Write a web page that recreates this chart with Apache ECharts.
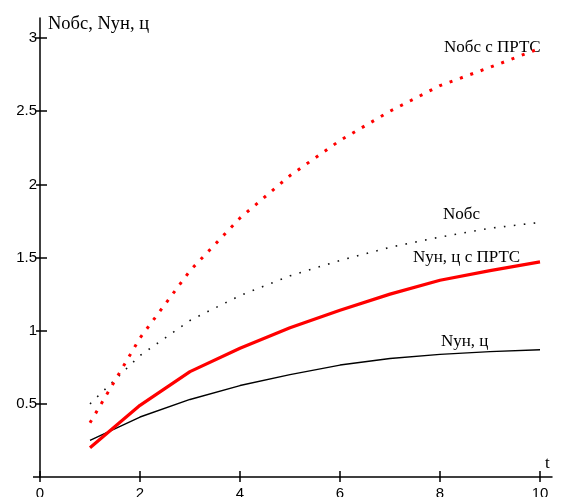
<!DOCTYPE html>
<html>
<head>
<meta charset="utf-8">
<script src="https://cdn.jsdelivr.net/npm/echarts@6/dist/echarts.min.js"></script>
<style>
  html, body { margin: 0; padding: 0; background: #fff; }
  #chart { width: 565px; height: 497px; }
</style>
</head>
<body>
<div id="chart"></div>
<script>
// Time points, t
const tValues = [1, 2, 3, 4, 5, 6, 7, 8, 9, 10];

// Nобс с ПРТС
const nObsPrts = [0.37, 0.95, 1.41, 1.77, 2.06, 2.30, 2.50, 2.675, 2.80, 2.93];
// Nобс
const nObs = [0.50, 0.83, 1.07, 1.24, 1.375, 1.48, 1.57, 1.64, 1.70, 1.74];
// Nун, ц с ПРТС
const nUnPrts = [0.20, 0.49, 0.72, 0.88, 1.02, 1.14, 1.25, 1.345, 1.41, 1.47];
// Nун, ц
const nUn = [0.25, 0.41, 0.53, 0.625, 0.70, 0.765, 0.81, 0.838, 0.857, 0.87];

// Tick labels
const xTicks = [0, 2, 4, 6, 8, 10];
const yTicks = [0.5, 1, 1.5, 2, 2.5, 3];

const pairs = (vals) => tValues.map((t, i) => [t, vals[i]]);

const serif = '"Liberation Serif", "DejaVu Serif", serif';
const sans = '"Liberation Sans", Arial, sans-serif';

const chart = echarts.init(document.getElementById('chart'), null, { renderer: 'canvas' });

const axisRange = { x: [0, 10.24], y: [0, 3.137] };

function textEl(text, x, y, size) {
  return {
    type: 'text',
    left: x,
    top: y,
    style: { text: text, font: (size || 17) + 'px ' + serif, fill: '#000' }
  };
}

const tickStyle = { color: '#000', width: 1.5 };

// helper for tick-only axes (no line, no labels)
function tickAxis(range, values, length) {
  return {
    type: 'value', min: range[0], max: range[1],
    axisLine: { show: false },
    axisTick: { show: true, inside: false, length: length, customValues: values, lineStyle: tickStyle },
    axisLabel: { show: false },
    splitLine: { show: false }
  };
}

chart.setOption({
  animation: false,
  backgroundColor: '#fff',
  grid: { left: 40, right: 13, top: 18, bottom: 20, containLabel: false, outerBoundsMode: 'none' },
  xAxis: [
    {
      type: 'value', min: axisRange.x[0], max: axisRange.x[1],
      axisLine: { show: true, lineStyle: { color: '#000', width: 1.5 } },
      axisTick: { show: true, inside: true, length: 6, customValues: xTicks, lineStyle: tickStyle },
      axisLabel: { show: true, customValues: xTicks, margin: 9, color: '#000', fontSize: 15, fontFamily: sans },
      splitLine: { show: false }
    },
    Object.assign(tickAxis(axisRange.x, xTicks, 5), { position: 'bottom' })
  ],
  yAxis: [
    {
      type: 'value', min: axisRange.y[0], max: axisRange.y[1],
      axisLine: { show: true, lineStyle: { color: '#000', width: 1.5 } },
      axisTick: { show: true, inside: true, length: 7, customValues: yTicks, lineStyle: tickStyle },
      axisLabel: { show: true, customValues: yTicks, margin: 3, color: '#000', fontSize: 15, fontFamily: sans },
      splitLine: { show: false }
    },
    Object.assign(tickAxis(axisRange.y, yTicks, 4), { position: 'left' }),
    // carries the horizontal axis a few pixels past the origin
    Object.assign(tickAxis(axisRange.y, [0], 7), { position: 'left' })
  ],
  series: [
    {
      name: 'Nун, ц', type: 'line', data: pairs(nUn), symbol: 'none',
      lineStyle: { color: '#000', width: 1.4 }, z: 3
    },
    {
      name: 'Nобс', type: 'line', data: pairs(nObs), symbol: 'none',
      lineStyle: { color: '#111', width: 1.6, type: [1.6, 8.4], cap: 'butt' }, z: 3
    },
    {
      name: 'Nун, ц с ПРТС', type: 'line', data: pairs(nUnPrts), symbol: 'none',
      lineStyle: { color: '#ff0000', width: 3.2 }, z: 4
    },
    {
      name: 'Nобс с ПРТС', type: 'line', data: pairs(nObsPrts), symbol: 'none',
      lineStyle: { color: '#ff0000', width: 3, type: [3, 8], cap: 'butt' }, z: 4
    }
  ],
  graphic: [
    textEl('Nобс, Nун, ц', 48, 15, 18.5),
    textEl('Nобс с ПРТС', 444, 39),
    textEl('Nобс', 443, 206),
    textEl('Nун, ц с ПРТС', 413, 249),
    textEl('Nун, ц', 441, 333),
    textEl('t', 545, 455)
  ]
});
</script>
</body>
</html>
